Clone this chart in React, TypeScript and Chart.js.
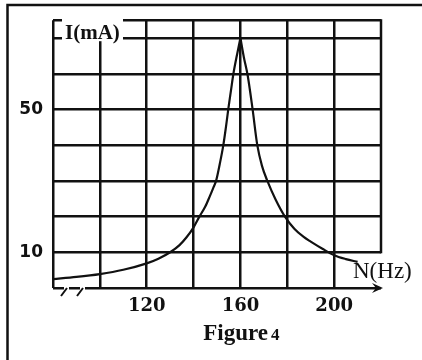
import React, { useEffect, useRef } from 'react';
import { Chart, registerables } from 'chart.js';

Chart.register(...registerables);

// ---- data ----
const frequencyHz = [
  80, 90, 100, 110, 120, 125, 130, 134, 137, 140, 142.5, 145, 147, 148.5, 149.6, 151.2, 152.7,
  153.8, 154.8, 156, 157, 158.5, 160,
  161.5, 163.1, 165.2, 167.2, 169.2, 171.5, 175, 179, 183, 187, 190, 195, 200, 205, 210,
];
const currentMA = [
  2.5, 3.1, 3.9, 5.1, 6.9, 8.2, 10.0, 12.0, 14.2, 17.0, 20.0, 22.8, 25.8, 28.2, 30, 34.8, 40,
  45, 50, 55.5, 60, 65.2, 70,
  64.5, 59.5, 50, 40, 34.2, 30, 24.8, 20, 16.6, 14.3, 13.0, 11.0, 9.2, 8.1, 7.3,
];
const xGridValues = [80, 100, 120, 140, 160, 180, 200, 220];
const yGridValues = [0, 10, 20, 30, 40, 50, 60, 70, 75];
const xTickLabels = [120, 160, 200];
const yTickLabels = [10, 50];
const yAxisTitle = 'I(mA)';
const xAxisTitle = 'N(Hz)';
const captionMain = 'Figure';
const captionNum = '4';

const INK = '#111';

const decorPlugin = {
  id: 'decor',
  afterDraw(chart: any) {
    const { ctx, chartArea: ca, scales } = chart;
    const x = scales.x;
    const y = scales.y;
    ctx.save();

    // outer frame (table border)
    ctx.strokeStyle = INK;
    ctx.lineWidth = 2.5;
    ctx.beginPath();
    ctx.moveTo(7.5, 360);
    ctx.lineTo(7.5, 5);
    ctx.lineTo(422, 5);
    ctx.stroke();

    // right border of grid, only down to 10 mA
    const xr = x.getPixelForValue(220);
    ctx.lineWidth = 2.5;
    ctx.strokeStyle = INK;
    ctx.beginPath();
    ctx.moveTo(xr, y.getPixelForValue(75) - 1);
    ctx.lineTo(xr, y.getPixelForValue(10) + 1);
    ctx.stroke();

    // axis break marks on the bottom-left
    const y0 = y.getPixelForValue(0);
    const b1 = ca.left + 10;
    const b2 = ca.left + 26;
    ctx.fillStyle = '#fff';
    ctx.fillRect(b1 + 1, y0 - 2, 5, 4);
    ctx.fillRect(b2 + 1, y0 - 2, 5, 4);
    ctx.lineWidth = 2;
    ctx.beginPath();
    ctx.moveTo(b1 - 2, y0 + 8);
    ctx.lineTo(b1 + 4, y0);
    ctx.moveTo(b2 - 2, y0 + 8);
    ctx.lineTo(b2 + 4, y0);
    ctx.stroke();

    // arrow head at the end of the N axis
    const tip = xr + 2;
    ctx.fillStyle = INK;
    ctx.beginPath();
    ctx.moveTo(tip, y0);
    ctx.lineTo(tip - 11, y0 - 5);
    ctx.lineTo(tip - 7, y0);
    ctx.lineTo(tip - 11, y0 + 5);
    ctx.closePath();
    ctx.fill();

    // I(mA) label with white background
    ctx.fillStyle = '#fff';
    ctx.fillRect(ca.left + 9, ca.top - 3, 61, 24);
    ctx.fillStyle = INK;
    ctx.font = 'bold 21px "Liberation Serif"';
    ctx.textAlign = 'left';
    ctx.textBaseline = 'alphabetic';
    ctx.fillText(yAxisTitle, ca.left + 12, ca.top + 19);

    // N(Hz) label
    ctx.font = '23px "Liberation Serif"';
    ctx.fillText(xAxisTitle, xr - 28, y0 - 10);

    // caption
    ctx.font = 'bold 23px "Liberation Serif"';
    const w1 = ctx.measureText(captionMain).width;
    ctx.font = 'bold 17px "Liberation Serif"';
    const w2 = ctx.measureText(captionNum).width;
    const total = w1 + 3 + w2;
    const cx = x.getPixelForValue(160) + 1;
    const startX = cx - total / 2;
    ctx.font = 'bold 23px "Liberation Serif"';
    ctx.fillText(captionMain, startX, 340);
    ctx.font = 'bold 17px "Liberation Serif"';
    ctx.fillText(captionNum, startX + w1 + 3, 340);

    ctx.restore();
  },
};

export default function App() {
  const ref = useRef<HTMLCanvasElement | null>(null);

  useEffect(() => {
    if (!ref.current) return;
    const points = frequencyHz.map((f, i) => ({ x: f, y: currentMA[i] }));
    const peakIndex = currentMA.indexOf(Math.max(...currentMA));
    const branch = (pts: any[]) => ({
      data: pts,
      borderColor: INK,
      borderWidth: 2.2,
      pointRadius: 0,
      cubicInterpolationMode: 'monotone',
      fill: false,
    });
    const chart = new Chart(ref.current, {
      type: 'line',
      data: {
        datasets: [
          branch(points.slice(0, peakIndex + 1)),
          branch(points.slice(peakIndex)),
        ],
      },
      options: {
        animation: false,
        responsive: false,
        devicePixelRatio: 1,
        layout: { autoPadding: false, padding: { left: 10, top: 17, right: 41, bottom: 32 } },
        plugins: { legend: { display: false }, tooltip: { enabled: false }, title: { display: false } },
        scales: {
          x: {
            type: 'linear',
            min: 80,
            max: 220,
            afterBuildTicks: (scale: any) => {
              scale.ticks = xGridValues.map((v) => ({ value: v }));
            },
            afterFit: (scale: any) => {
              scale.height = 40;
            },
            border: { display: false },
            grid: {
              color: (c: any) => (c.tick && c.tick.value === 220 ? 'rgba(0,0,0,0)' : INK),
              lineWidth: 2.5,
              drawTicks: false,
            },
            ticks: {
              autoSkip: false,
              maxRotation: 0,
              padding: 8,
              color: INK,
              font: { family: '"DejaVu Serif"', size: 18, weight: 'bold' },
              callback: (v: any) => (xTickLabels.includes(Number(v)) ? String(v) : ''),
            },
          },
          y: {
            type: 'linear',
            min: 0,
            max: 75,
            afterBuildTicks: (scale: any) => {
              scale.ticks = yGridValues.map((v) => ({ value: v }));
            },
            afterFit: (scale: any) => {
              scale.width = 43;
            },
            border: { display: false },
            grid: { color: INK, lineWidth: 2.5, drawTicks: false },
            ticks: {
              autoSkip: false,
              padding: 10,
              color: INK,
              font: { family: '"DejaVu Sans"', size: 17, weight: 'bold' },
              callback: (v: any) => (yTickLabels.includes(Number(v)) ? String(v) : ''),
            },
          },
        },
      },
      plugins: [decorPlugin],
    } as any);
    return () => chart.destroy();
  }, []);

  return (
    <div style={{ position: 'fixed', left: 0, top: 0, width: 422, height: 360, background: '#fff' }}>
      <canvas ref={ref} width={422} height={360} style={{ display: 'block' }} />
    </div>
  );
}
